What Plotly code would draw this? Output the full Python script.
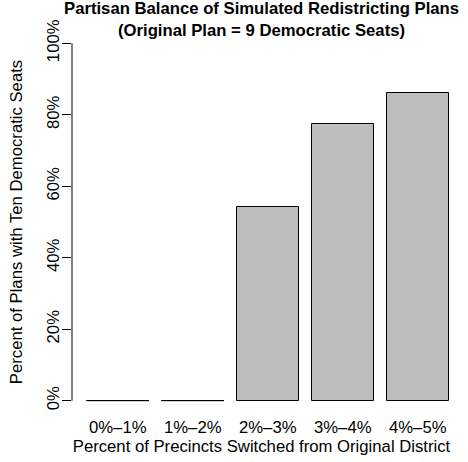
import plotly.graph_objects as go

categories = ["0%\u20131%", "1%\u20132%", "2%\u20133%", "3%\u20134%", "4%\u20135%"]
values = [0.0, 0.0, 0.541, 0.774, 0.860]
y_ticks = [0, 0.2, 0.4, 0.6, 0.8, 1.0]
y_tick_labels = ["0%", "20%", "40%", "60%", "80%", "100%"]
title_lines = ["Partisan Balance of Simulated Redistricting Plans",
               "(Original Plan = 9 Democratic Seats)"]
x_title = "Percent of Precincts Switched from Original District"
y_title = "Percent of Plans with Ten Democratic Seats"

BAR_W = 1 / 1.2
FONT = "Liberation Sans, Arial, Helvetica, sans-serif"
FS = 16.7
W, H = 468, 462
ML, MR, MT, MB = 72, 17, 29, 47
PH = H - MT - MB

fig = go.Figure()
fig.add_trace(go.Bar(
    x=categories, y=values, width=BAR_W,
    marker=dict(color="#BEBEBE", line=dict(color="black", width=1)),
    hoverinfo="x+y",
))

# zero-height bars are drawn as a flat outline
for i, v in enumerate(values):
    if v == 0:
        fig.add_shape(type="line", xref="x", yref="y",
                      x0=i - BAR_W / 2, x1=i + BAR_W / 2, y0=v, y1=v,
                      line=dict(color="black", width=1))

# y axis line only spanning the tick range
fig.add_shape(type="line", xref="paper", yref="y", x0=0, x1=0,
              y0=y_ticks[0], y1=y_ticks[-1], line=dict(color="black", width=1))

# two-line bold title (one text block)
fig.add_annotation(text="<b>" + "<br>".join(title_lines) + "</b>",
                   xref="paper", yref="paper", x=0.5, y=(H - MB - 19.5) / PH,
                   xanchor="center", yanchor="middle", showarrow=False,
                   font=dict(size=FS, family=FONT, color="black"))

fig.update_layout(
    width=W, height=H,
    margin=dict(l=ML, r=MR, t=MT, b=MB, pad=0, autoexpand=False),
    paper_bgcolor="white", plot_bgcolor="white",
    font=dict(family=FONT, size=FS, color="black"),
    showlegend=False,
    bargap=0,
    xaxis=dict(
        range=[-0.61, 4.443], showgrid=False, zeroline=False, showline=False,
        automargin=False,
        ticks="", tickfont=dict(size=FS), ticklabelstandoff=0,
        title=dict(text=x_title, standoff=3, font=dict(size=FS)),
        fixedrange=True,
    ),
    yaxis=dict(
        range=[-0.04, 1.04], showgrid=False, zeroline=False, showline=False,
        automargin=False,
        tickvals=y_ticks, ticktext=y_tick_labels, tickangle=-90,
        ticks="outside", ticklen=9, tickcolor="black", tickwidth=1,
        ticklabelstandoff=-4, tickfont=dict(size=FS),
        title=dict(text=y_title, standoff=17, font=dict(size=FS)),
        fixedrange=True,
    ),
)

# remove the browser's default 8px body margin so the figure fills the window
fig.write_html("out.html", config={"displayModeBar": False},
               post_script="document.body.style.margin='0px';")
